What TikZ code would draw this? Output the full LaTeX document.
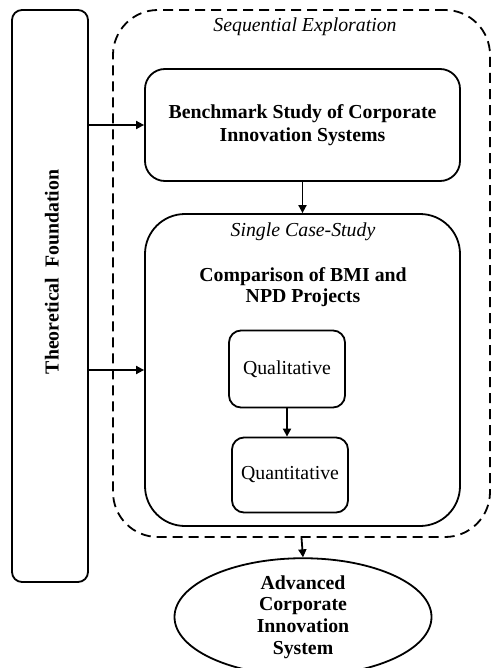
\documentclass[tikz,border=0pt]{standalone}
\usepackage{fontspec}
\setmainfont{Liberation Serif}
\usetikzlibrary{arrows.meta,shapes.geometric}

\begin{document}
\begin{tikzpicture}[
  x=1pt, y=-1pt,
  font=\fontsize{19.8}{23}\selectfont,
  >={Triangle[length=8pt,width=8pt]},
  block/.style={
    rectangle, draw=black, line width=1.8pt,
    fill=white, rounded corners=#1,
    inner sep=0pt, align=center
  },
  block/.default=12pt,
  outerpad/.style={
    rectangle, draw=black, line width=1.8pt,
    dash pattern=on 10pt off 6pt, rounded corners=45pt, inner sep=0pt
  },
  result/.style={
    ellipse, draw=black, line width=1.8pt, fill=white,
    inner sep=0pt, align=center, font=\fontsize{19.8}{21.7}\selectfont\bfseries
  },
  caption/.style={font=\fontsize{19.8}{23}\selectfont\itshape, inner sep=0pt},
  arr/.style={->, line width=1.8pt, draw=black}
]
\useasboundingbox (0,0) rectangle (491,668);

% left column
\node[block=10pt, minimum width=76pt, minimum height=572pt] (theory) at (50,296) {};
\node[rotate=90, font=\fontsize{19.8}{23}\selectfont\bfseries] (theorylbl) at (52,272)
  {Theoretical\ \ Foundation};

% exploration frame
\node[outerpad, minimum width=377pt, minimum height=527pt] (explore) at (301.5,273.5) {};
\node[caption] (explorelbl) at (305,27) {Sequential Exploration};

\node[block=20pt, minimum width=315pt, minimum height=112pt,
  font=\fontsize{19.8}{23.5}\selectfont\bfseries] (bench) at (302.5,125)
  {Benchmark Study of Corporate\\Innovation Systems};

\node[block=40pt, minimum width=315pt, minimum height=312pt] (case) at (302.5,370) {};
\node[caption] (caselbl) at (303,232) {Single Case-Study};
\node[align=center, inner sep=0pt, font=\fontsize{19.8}{21}\selectfont\bfseries] (compare) at (303,287)
  {Comparison of BMI and\\NPD Projects};

\node[block, minimum width=116pt, minimum height=77pt] (qual) at (287,369) {Qualitative};
\node[block, minimum width=116pt, minimum height=75pt] (quant) at (290,475) {Quantitative};

\node[result, minimum width=257pt, minimum height=97pt] (outcome) at (303,617)
  {Advanced\\Corporate\\Innovation\\System};

\draw[arr] (theory.east |- bench.west) -- (bench.west);
\draw[arr] (theory.east |- case.west) -- (case.west);
\draw[arr] (bench.south) -- (case.north);
\draw[arr] (qual.south) -- (qual.south |- quant.north);
\draw[arr] (explore.south) -- (outcome.north);

\end{tikzpicture}
\end{document}
